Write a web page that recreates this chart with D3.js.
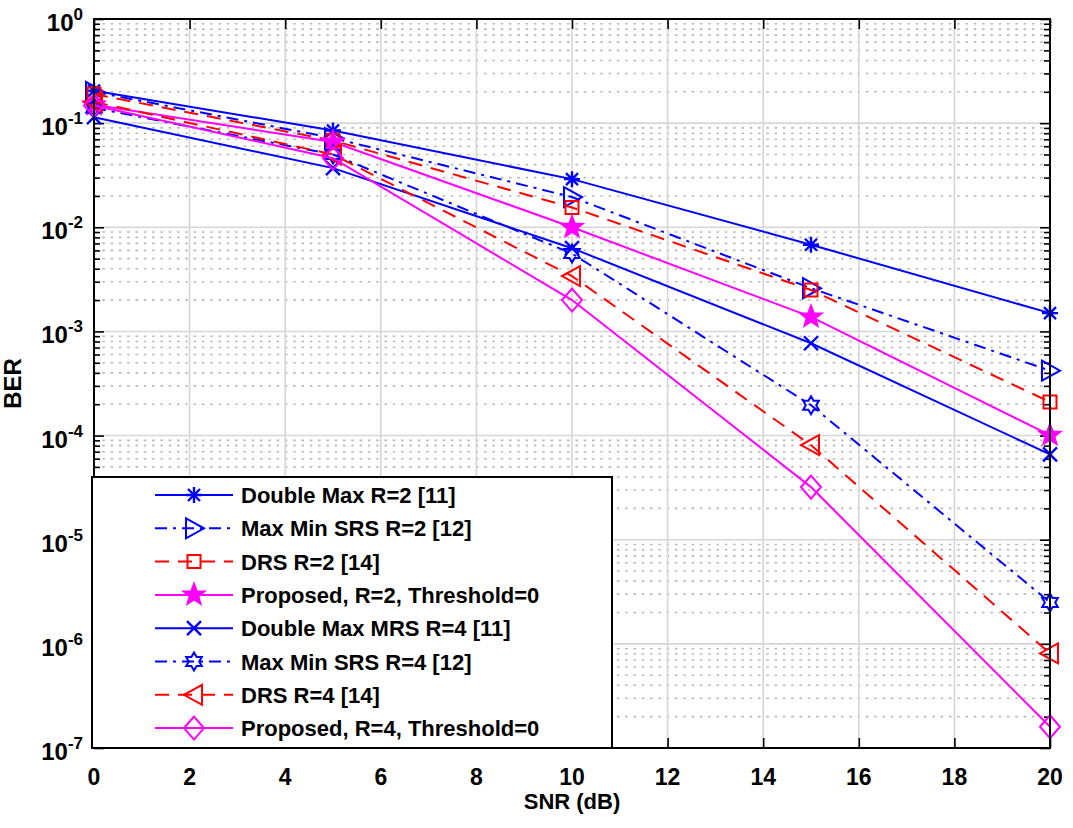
<!DOCTYPE html>
<html><head><meta charset="utf-8">
<script src="https://cdn.jsdelivr.net/npm/d3@7"></script>
<style>
body{margin:0;background:#fff;}
text{font-family:"Liberation Sans",Arial,sans-serif;font-weight:bold;fill:#000;}
</style></head>
<body><svg id="c" width="1073" height="828"></svg>
<script>
const snr = [0, 5, 10, 15, 20];
const seriesNames = [
  "Double Max R=2 [11]",
  "Max Min SRS R=2 [12]",
  "DRS R=2 [14]",
  "Proposed, R=2, Threshold=0",
  "Double Max MRS R=4 [11]",
  "Max Min SRS R=4 [12]",
  "DRS R=4 [14]",
  "Proposed, R=4, Threshold=0"
];
const berDoubleMaxR2   = [0.205, 0.085, 0.029, 0.0068, 0.0015];
const berMaxMinR2      = [0.20, 0.072, 0.0195, 0.0026, 0.00042];
const berDrsR2         = [0.19, 0.068, 0.0155, 0.0025, 0.00021];
const berProposedR2    = [0.15, 0.066, 0.0100, 0.00138, 0.000101];
const berDoubleMaxR4   = [0.114, 0.037, 0.0063, 0.00077, 0.000066];
const berMaxMinR4      = [0.14, 0.050, 0.0056, 0.000196, 0.0000025];
const berDrsR4         = [0.16, 0.050, 0.0034, 0.000081, 0.00000081];
const berProposedR4    = [0.148, 0.046, 0.0020, 0.000032, 0.00000016];
const xTicks = [0, 2, 4, 6, 8, 10, 12, 14, 16, 18, 20];
const yExponents = [0, -1, -2, -3, -4, -5, -6, -7];

const series = [
  {name: seriesNames[0], v: berDoubleMaxR2, color: "#0000ff", dash: null, marker: "asterisk"},
  {name: seriesNames[1], v: berMaxMinR2, color: "#0000ff", dash: "12,6,3,6", marker: "triRight"},
  {name: seriesNames[2], v: berDrsR2, color: "#ff0000", dash: "14,9", marker: "square"},
  {name: seriesNames[3], v: berProposedR2, color: "#ff00ff", dash: null, marker: "pentagram"},
  {name: seriesNames[4], v: berDoubleMaxR4, color: "#0000ff", dash: null, marker: "cross"},
  {name: seriesNames[5], v: berMaxMinR4, color: "#0000ff", dash: "12,6,3,6", marker: "hexagram"},
  {name: seriesNames[6], v: berDrsR4, color: "#ff0000", dash: "14,9", marker: "triLeft"},
  {name: seriesNames[7], v: berProposedR4, color: "#ff00ff", dash: null, marker: "diamond"}
];

const L = 94, R = 1050, T = 19, B = 748;
const x = d3.scaleLinear().domain([0, 20]).range([L, R]);
const y = d3.scaleLog().domain([1e-7, 1]).range([B, T]);
const svg = d3.select("#c");

// grid
const g = svg.append("g");
for (let e = -7; e < 0; e++) {
  for (let m = 2; m <= 9; m++) {
    const v = m * Math.pow(10, e);
    g.append("line").attr("x1", L).attr("x2", R).attr("y1", y(v)).attr("y2", y(v))
      .attr("stroke", "#b8b8b8").attr("stroke-width", 1.6).attr("stroke-dasharray", "2.5,5.8");
  }
}
yExponents.forEach(e => {
  g.append("line").attr("x1", L).attr("x2", R).attr("y1", y(Math.pow(10, e))).attr("y2", y(Math.pow(10, e)))
    .attr("stroke", "#d6d6d6").attr("stroke-width", 1.6);
});
xTicks.forEach(t => {
  g.append("line").attr("x1", x(t)).attr("x2", x(t)).attr("y1", T).attr("y2", B)
    .attr("stroke", "#d6d6d6").attr("stroke-width", 1.6);
});

// axis ticks (inward) using d3 axes
const yMinor = [];
for (let e = -7; e < 0; e++) for (let m = 2; m <= 9; m++) yMinor.push(m * Math.pow(10, e));
const yMajor = yExponents.map(e => Math.pow(10, e));
function styleAxis(sel){ sel.select(".domain").remove(); sel.selectAll("line").attr("stroke","#000").attr("stroke-width",1.6); sel.selectAll("text").remove(); }
svg.append("g").attr("transform", `translate(${L},0)`).call(d3.axisRight(y).tickValues(yMajor).tickSize(10)).call(styleAxis);
svg.append("g").attr("transform", `translate(${L},0)`).call(d3.axisRight(y).tickValues(yMinor).tickSize(6)).call(styleAxis);
svg.append("g").attr("transform", `translate(${R},0)`).call(d3.axisLeft(y).tickValues(yMajor).tickSize(10)).call(styleAxis);
svg.append("g").attr("transform", `translate(${R},0)`).call(d3.axisLeft(y).tickValues(yMinor).tickSize(6)).call(styleAxis);
svg.append("g").attr("transform", `translate(0,${B})`).call(d3.axisTop(x).tickValues(xTicks).tickSize(10)).call(styleAxis);
svg.append("g").attr("transform", `translate(0,${T})`).call(d3.axisBottom(x).tickValues(xTicks).tickSize(10)).call(styleAxis);

// tick labels
xTicks.forEach(t => {
  svg.append("text").attr("x", x(t)).attr("y", 785).attr("text-anchor", "middle")
    .attr("font-size", 23).text(t);
});
yExponents.forEach(e => {
  const tx = svg.append("text").attr("x", 83).attr("y", y(Math.pow(10, e)) + 12)
    .attr("text-anchor", "end").attr("font-size", 24);
  tx.append("tspan").text("10");
  tx.append("tspan").attr("font-size", 17).attr("dy", -11).text(String(e));
});
svg.append("text").attr("x", (L + R) / 2).attr("y", 809).attr("text-anchor", "middle")
  .attr("font-size", 22).text("SNR (dB)");
svg.append("text").attr("transform", `translate(21,${(T + B) / 2}) rotate(-90)`)
  .attr("text-anchor", "middle").attr("font-size", 24).text("BER");

// markers
function starPath(n, ro, ri) {
  let p = "";
  for (let i = 0; i < 2 * n; i++) {
    const r = i % 2 === 0 ? ro : ri;
    const a = -Math.PI / 2 + i * Math.PI / n;
    p += (i === 0 ? "M" : "L") + (r * Math.cos(a)).toFixed(2) + "," + (r * Math.sin(a)).toFixed(2);
  }
  return p + "Z";
}
function drawMarker(sel, type, color) {
  const sw = 2;
  if (type === "asterisk") {
    sel.append("path").attr("d", "M-8,0L8,0M0,-8L0,8M-6,-6L6,6M-6,6L6,-6")
      .attr("stroke", color).attr("stroke-width", 2.4).attr("fill", "none");
  } else if (type === "triRight") {
    sel.append("path").attr("d", "M-8,-10L10,0L-8,10Z").attr("stroke", color).attr("stroke-width", sw).attr("fill", "none");
  } else if (type === "triLeft") {
    sel.append("path").attr("d", "M8,-10L-10,0L8,10Z").attr("stroke", color).attr("stroke-width", sw).attr("fill", "none");
  } else if (type === "square") {
    sel.append("path").attr("d", "M-6.5,-6.5L6.5,-6.5L6.5,6.5L-6.5,6.5Z").attr("stroke", color).attr("stroke-width", sw).attr("fill", "none");
  } else if (type === "pentagram") {
    sel.append("path").attr("d", starPath(5, 11, 4.6)).attr("stroke", color).attr("stroke-width", sw).attr("fill", color);
  } else if (type === "cross") {
    sel.append("path").attr("d", "M-7,-7L7,7M-7,7L7,-7").attr("stroke", color).attr("stroke-width", 2.4).attr("fill", "none");
  } else if (type === "hexagram") {
    sel.append("path").attr("d", starPath(6, 9, 5.2)).attr("stroke", color).attr("stroke-width", sw).attr("fill", "none");
  } else if (type === "diamond") {
    sel.append("path").attr("d", "M0,-11.5L10,0L0,11.5L-10,0Z").attr("stroke", color).attr("stroke-width", sw).attr("fill", "none");
  }
}

const line = d3.line().x(d => x(d[0])).y(d => y(d[1]));
series.forEach(s => {
  const pts = snr.map((t, i) => [t, s.v[i]]);
  svg.append("path").datum(pts).attr("d", line).attr("fill", "none")
    .attr("stroke", s.color).attr("stroke-width", 2)
    .attr("stroke-dasharray", s.dash);
  pts.forEach(p => {
    const mg = svg.append("g").attr("transform", `translate(${x(p[0])},${y(p[1])})`);
    drawMarker(mg, s.marker, s.color);
  });
});

// axes box
svg.append("rect").attr("x", L).attr("y", T).attr("width", R - L).attr("height", B - T)
  .attr("fill", "none").attr("stroke", "#000").attr("stroke-width", 2);

// legend
const lg = svg.append("g");
lg.append("rect").attr("x", 92).attr("y", 477).attr("width", 520).attr("height", 271)
  .attr("fill", "#fff").attr("stroke", "#000").attr("stroke-width", 2);
series.forEach((s, i) => {
  const cy = 495 + i * 33.3;
  lg.append("line").attr("x1", 155).attr("x2", 233).attr("y1", cy).attr("y2", cy)
    .attr("stroke", s.color).attr("stroke-width", 2).attr("stroke-dasharray", s.dash);
  const mg = lg.append("g").attr("transform", `translate(194,${cy})`);
  drawMarker(mg, s.marker, s.color);
  lg.append("text").attr("x", 241).attr("y", cy + 8).attr("font-size", 22).text(s.name);
});
</script></body></html>
